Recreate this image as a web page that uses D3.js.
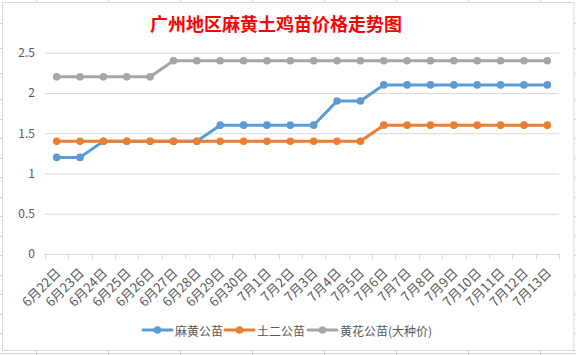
<!DOCTYPE html>
<html><head><meta charset="utf-8">
<script src="https://cdn.jsdelivr.net/npm/d3@7"></script>
<style>
html,body{margin:0;padding:0;background:#fff;}
svg{display:block;}
text{font-family:"Noto Sans CJK SC","Noto Sans",sans-serif;}
</style></head>
<body>
<svg id="chart" width="576" height="355"></svg>
<script>
const categories = ["6月22日","6月23日","6月24日","6月25日","6月26日","6月27日","6月28日","6月29日","6月30日","7月1日","7月2日","7月3日","7月4日","7月5日","7月6日","7月7日","7月8日","7月9日","7月10日","7月11日","7月12日","7月13日"];
const mahuang = [1.2,1.2,1.4,1.4,1.4,1.4,1.4,1.6,1.6,1.6,1.6,1.6,1.9,1.9,2.1,2.1,2.1,2.1,2.1,2.1,2.1,2.1];
const tuer    = [1.4,1.4,1.4,1.4,1.4,1.4,1.4,1.4,1.4,1.4,1.4,1.4,1.4,1.4,1.6,1.6,1.6,1.6,1.6,1.6,1.6,1.6];
const huanghua= [2.2,2.2,2.2,2.2,2.2,2.4,2.4,2.4,2.4,2.4,2.4,2.4,2.4,2.4,2.4,2.4,2.4,2.4,2.4,2.4,2.4,2.4];
const seriesNames = ["麻黄公苗","土二公苗","黄花公苗(大种价)"];
const seriesColors = ["#5B9BD5","#ED7D31","#A5A5A5"];
const yTicks = [0,0.5,1,1.5,2,2.5];
const title = "广州地区麻黄土鸡苗价格走势图";

const series = [mahuang, tuer, huanghua].map((v,i)=>({name:seriesNames[i], color:seriesColors[i], values:v}));

const svg = d3.select("#chart");
const W = 576, H = 355;

// spreadsheet background grid
const sheetV = d3.range(36, W, 72);
const sheetH = [23,48,73,99].concat(d3.range(118.5, H, 19.5));
svg.append("g").selectAll("line.v").data(sheetV).join("line")
  .attr("x1",d=>d+0.5).attr("x2",d=>d+0.5).attr("y1",0).attr("y2",H)
  .attr("stroke","#D4D4D4").attr("stroke-width",1);
svg.append("g").selectAll("line.h").data(sheetH).join("line")
  .attr("x1",0).attr("x2",W).attr("y1",d=>Math.round(d)+0.5).attr("y2",d=>Math.round(d)+0.5)
  .attr("stroke","#D4D4D4").attr("stroke-width",1);

// chart area
svg.append("rect").attr("x",2.5).attr("y",2.5).attr("width",571.5).attr("height",348)
  .attr("fill","#fff").attr("stroke","#D9D9D9").attr("stroke-width",1);

const plot = {left:45, right:559, top:52.7, bottom:254};
const x = d3.scaleBand().domain(categories).range([plot.left, plot.right]).padding(0);
const y = d3.scaleLinear().domain([0,2.5]).range([plot.bottom, plot.top]);

// title
svg.append("text").attr("x",276).attr("y",31).attr("text-anchor","middle")
  .attr("fill","#FF0000").attr("font-size",18).attr("font-weight","bold").text(title);

// y gridlines + labels
const yAxis = d3.axisLeft(y).tickValues(yTicks).tickSize(-(plot.right-plot.left)).tickPadding(10).tickFormat(d3.format("~g"));
const gy = svg.append("g").attr("transform",`translate(${plot.left},0)`).call(yAxis);
gy.select(".domain").remove();
gy.selectAll(".tick line").attr("stroke","#D9D9D9").attr("stroke-width",1);
gy.selectAll(".tick text").attr("fill","#595959").attr("font-size",12)
  .attr("font-family","'Noto Sans','DejaVu Sans',sans-serif");

// x axis
const xAxis = d3.axisBottom(x).tickSize(0).tickFormat("");
const gx = svg.append("g").attr("transform",`translate(0,${plot.bottom})`).call(xAxis);
gx.select(".domain").attr("stroke","#D9D9D9").attr("d",`M${plot.left},0.5H${plot.right}`);
gx.selectAll(".tick").remove();
// boundary tick marks
const bounds = categories.map(c=>x(c)).concat([plot.right]);
gx.selectAll("line.bt").data(bounds).join("line").attr("class","bt")
  .attr("x1",d=>Math.round(d)+0.5).attr("x2",d=>Math.round(d)+0.5).attr("y1",0).attr("y2",5)
  .attr("stroke","#D9D9D9");
// labels
svg.append("g").selectAll("text.xl").data(categories).join("text").attr("class","xl")
  .attr("text-anchor","end").attr("dominant-baseline","central")
  .attr("transform",d=>`translate(${x(d)+x.bandwidth()/2+1},${plot.bottom+16}) rotate(-45)`)
  .attr("fill","#595959").attr("font-size",13).text(d=>d);

// lines
const line = d3.line().x((d,i)=>x(categories[i])+x.bandwidth()/2).y(d=>y(d));
const gs = svg.append("g").selectAll("g").data(series).join("g");
gs.append("path").attr("d",d=>line(d.values)).attr("fill","none")
  .attr("stroke",d=>d.color).attr("stroke-width",3).attr("stroke-linejoin","round").attr("stroke-linecap","round");
gs.each(function(s){
  d3.select(this).selectAll("circle").data(s.values).join("circle")
    .attr("cx",(d,i)=>x(categories[i])+x.bandwidth()/2).attr("cy",d=>y(d))
    .attr("r",3.8).attr("fill",s.color);
});

// legend
const legendX = [143, 225, 308];
const lg = svg.append("g").selectAll("g").data(series).join("g")
  .attr("transform",(d,i)=>`translate(${legendX[i]},330)`);
lg.append("line").attr("x1",0).attr("x2",29).attr("y1",0).attr("y2",0)
  .attr("stroke",d=>d.color).attr("stroke-width",3).attr("stroke-linecap","round");
lg.append("circle").attr("cx",14.5).attr("cy",0).attr("r",3.8).attr("fill",d=>d.color);
lg.append("text").attr("x",32).attr("y",0).attr("dominant-baseline","central")
  .attr("fill","#595959").attr("font-size",12).text(d=>d.name);
</script>
</body></html>
